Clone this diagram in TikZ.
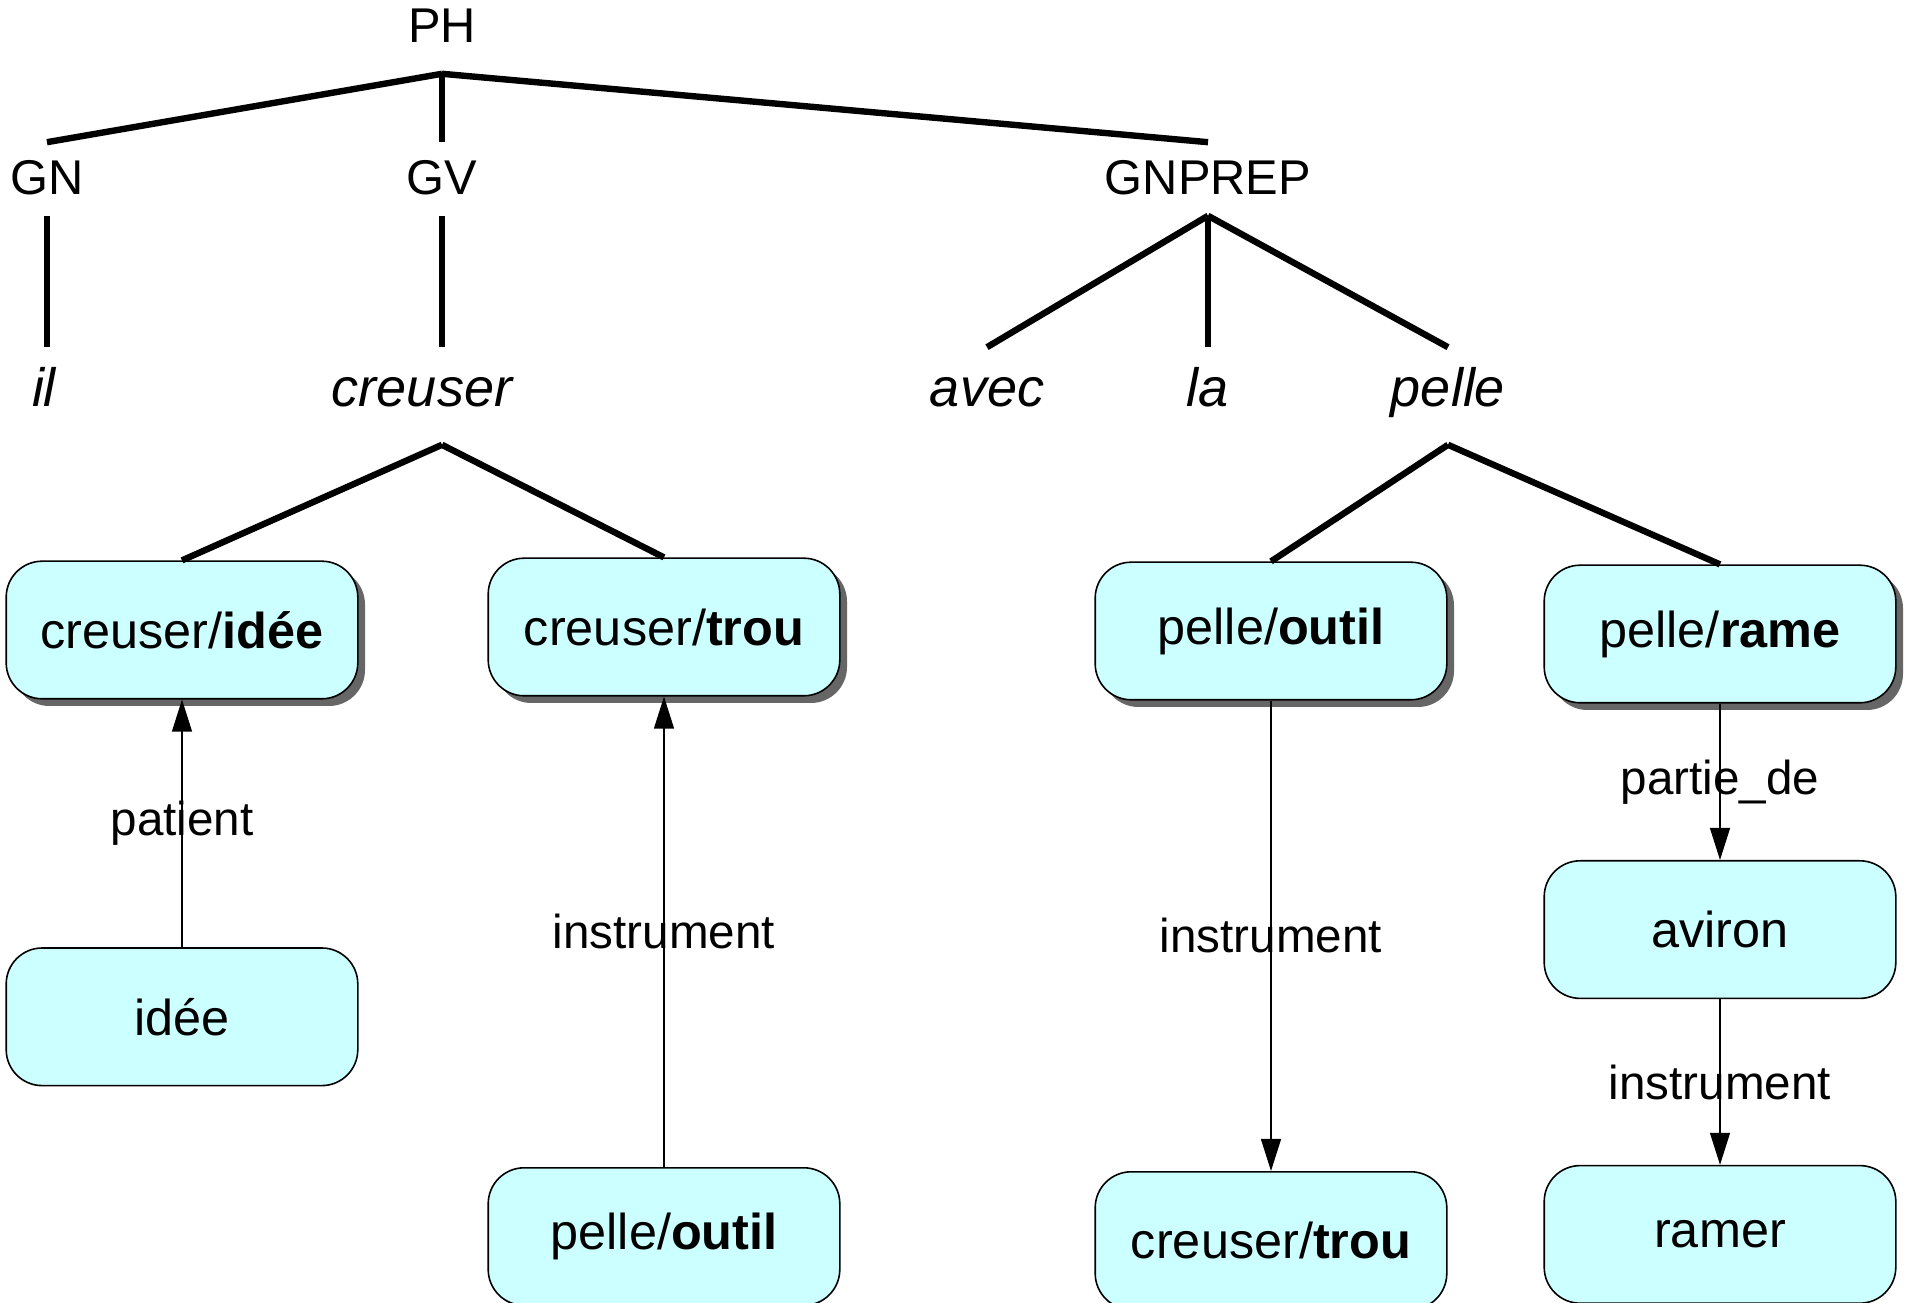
\documentclass[tikz,border=0pt]{standalone}
\usepackage{fontspec}
\setmainfont{Liberation Sans}
\usepackage{xcolor}
\usetikzlibrary{arrows.meta,positioning,shadows}
\definecolor{senseblue}{HTML}{CCFFFF}
\newcommand{\sens}[2]{#1/\textbf{#2}}
\tikzset{%
  % classes
  cat/.style={anchor=base, inner sep=0pt, text height=13pt, text depth=5pt,
    font=\fontsize{12.2}{14}\selectfont},
  root/.style={cat, text depth=7.5pt},
  word/.style={anchor=base, inner sep=0pt, text height=14.75pt, text depth=9.25pt,
    font=\fontsize{13.5}{16}\selectfont\itshape},
  sense/.style={draw, line width=0.4pt, rounded corners=9pt, fill=senseblue,
    minimum width=87.9pt, minimum height=34.4pt, font=\fontsize{12.6}{14}\selectfont},
  head/.style={sense, drop shadow={shadow xshift=1.8pt, shadow yshift=-1.8pt,
    fill=black!60, opacity=1}},
  % edge styles
  branch/.style={line width=1.6pt},
  rel/.style={-{Triangle[width=5pt,length=8pt]}, line width=0.3pt},
  rellabel/.style={font=\fontsize{11.9}{14}\selectfont},
}

\begin{document}
\begin{tikzpicture}[x=0.25pt, y=-0.25pt]
  \useasboundingbox (0,0) rectangle (1907,1303);

  % Syntax tree
  \node[root] (PH) at (442,43) {PH};
  \node[cat] (GN) at (47,195) {GN};
  \node[cat] (GV) at (442,195) {GV};
  \node[cat] (GNPREP) at (1208,195) {GNPREP};
  \node[word] (il) at (44,407) {il};
  \node[word] (creuser) at (422,407) {creuser};
  \node[word] (avec) at (987,407) {avec};
  \node[word] (la) at (1208,407) {la};
  \node[word] (pelle) at (1448,407) {pelle};

  \draw[branch] (PH.south) -- (GN.north);
  \draw[branch] (PH.south) -- (GV.north);
  \draw[branch] (PH.south) -- (GNPREP.north);
  \draw[branch] (GN.south) -- (GN.south |- il.north);
  \draw[branch] (GV.south) -- (GV.south |- creuser.north);
  \draw[branch] (GNPREP.south) -- (avec.north);
  \draw[branch] (GNPREP.south) -- (la.north);
  \draw[branch] (GNPREP.south) -- (pelle.north);

  % Senses
  \node[head] (cidee) at (182,630) {\sens{creuser}{idée}};
  \node[head] (ctrou) at (664,627) {\sens{creuser}{trou}};
  \node[head] (poutil) at (1271,631) {\sens{pelle}{outil}};
  \node[head] (prame) at (1720,634) {\sens{pelle}{rame}};

  \coordinate (creuser-root) at (creuser.south -| GV.south);
  \draw[branch] (creuser-root) -- (cidee.north);
  \draw[branch] (creuser-root) -- (ctrou.north);
  \draw[branch] (pelle.south) -- (poutil.north);
  \draw[branch] (pelle.south) -- (prame.north);

  % Related senses
  \node[sense, below=61.9pt of cidee] (idee) {idée};
  \node[sense, below=117.6pt of ctrou] (poutil2) {\sens{pelle}{outil}};
  \node[sense, below=117.6pt of poutil] (ctrou2) {\sens{creuser}{trou}};
  \node[sense, below=39.1pt of prame] (aviron) {aviron};
  \node[sense, below=41.4pt of aviron] (ramer) {ramer};

  % Links
  \draw[rel] (idee) -- node[rellabel] {patient} (cidee);
  \draw[rel] (poutil2) -- node[rellabel] {instrument} (ctrou);
  \draw[rel] (poutil) -- node[rellabel] {instrument} (ctrou2);
  \draw[rel] (prame) -- node[rellabel] {partie\_de} (aviron);
  \draw[rel] (aviron) -- node[rellabel] {instrument} (ramer);

\end{tikzpicture}
\end{document}
